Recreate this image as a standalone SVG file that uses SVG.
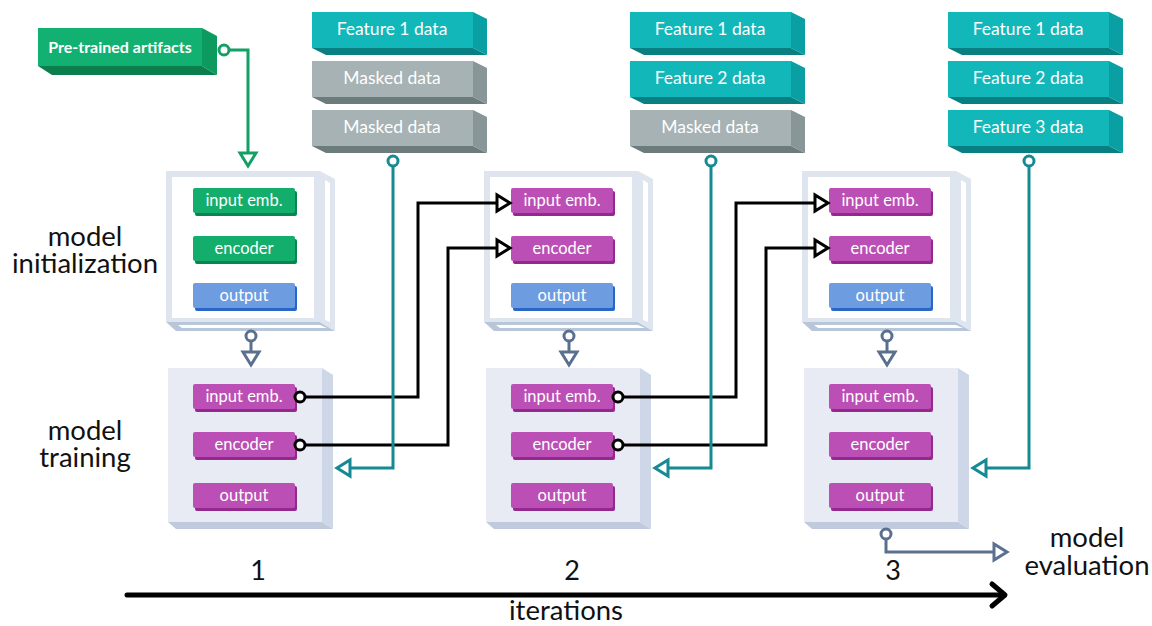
<svg xmlns="http://www.w3.org/2000/svg" width="1152" height="626" viewBox="0 0 1152 626">
<style>
text{font-family:Lato,"Noto Sans","Liberation Sans",sans-serif}
.lbl{font-size:27.5px;fill:#111;text-anchor:middle}
.num{font-size:27px;fill:#111;text-anchor:middle}
.dt{font-size:17.5px;fill:#fff;text-anchor:middle}
.bt{font-size:16.5px;fill:#fff;text-anchor:middle}
.tf{fill:#12b7b9}.ts{fill:#0a9fa2}.tb{fill:#087f81}
.gf{fill:#a6b2b3}.gs{fill:#899698}.gb{fill:#6c7b7c}
.pf{fill:#12b172}.ps{fill:#0c9a5f}.pb{fill:#0a7f4d}
.mag{fill:#bb4fb5}.magd{fill:#93288f}
.grn{fill:#13ad6c}.grnd{fill:#0a8450}
.blu{fill:#6d9ce0}.blud{fill:#2a66c8}
.fr{fill:#dfe5ef}.frw{fill:#fff}.frb{fill:#b8c6da}
.tr{fill:#e8ebf4}.trs{fill:#cdd7e7}.trb{fill:#bfcadd}
.ln{fill:none;stroke-width:3;stroke-linejoin:miter}
.k{stroke:#000}.c{stroke:#168a93}.s{stroke:#5b708f}.g{stroke:#12a064}
.dot{fill:#fff;stroke-width:3}
.ah{fill:#fff;stroke-width:3;stroke-linejoin:miter}
</style>

<!-- left labels -->
<g id="label-init"><text class="lbl" x="85" y="246">model</text><text class="lbl" x="85" y="273">initialization</text></g>
<g id="label-train"><text class="lbl" x="85" y="440">model</text><text class="lbl" x="85" y="467">training</text></g>
<g id="label-eval"><text class="lbl" x="1087" y="547">model</text><text class="lbl" x="1087" y="575">evaluation</text></g>

<!-- pre-trained artifacts -->
<g id="pretrained">
<polygon class="pb" points="38,66 202,66 217,75 52,75"/>
<polygon class="ps" points="202,28 217,36 217,75 202,66"/>
<rect class="pf" x="38" y="28" width="164" height="38"/>
<text x="120" y="53" font-size="16" font-weight="bold" fill="#fff" text-anchor="middle">Pre-trained artifacts</text>
</g>

<!-- data stacks -->
<g id="data-col1">
<polygon class="tb" points="312,48 473,48 487,55 326,55"/><polygon class="ts" points="473,12 487,19 487,55 473,48"/><rect class="tf" x="312" y="12" width="161" height="36"/>
<text class="dt" x="392" y="35">Feature 1 data</text>
<polygon class="gb" points="312,97 473,97 487,104 326,104"/><polygon class="gs" points="473,61 487,68 487,104 473,97"/><rect class="gf" x="312" y="61" width="161" height="36"/>
<text class="dt" x="392" y="84">Masked data</text>
<polygon class="gb" points="312,146 473,146 487,153 326,153"/><polygon class="gs" points="473,110 487,117 487,153 473,146"/><rect class="gf" x="312" y="110" width="161" height="36"/>
<text class="dt" x="392" y="133">Masked data</text>
</g>
<g id="data-col2" transform="translate(318,0)">
<polygon class="tb" points="312,48 473,48 487,55 326,55"/><polygon class="ts" points="473,12 487,19 487,55 473,48"/><rect class="tf" x="312" y="12" width="161" height="36"/>
<text class="dt" x="392" y="35">Feature 1 data</text>
<polygon class="tb" points="312,97 473,97 487,104 326,104"/><polygon class="ts" points="473,61 487,68 487,104 473,97"/><rect class="tf" x="312" y="61" width="161" height="36"/>
<text class="dt" x="392" y="84">Feature 2 data</text>
<polygon class="gb" points="312,146 473,146 487,153 326,153"/><polygon class="gs" points="473,110 487,117 487,153 473,146"/><rect class="gf" x="312" y="110" width="161" height="36"/>
<text class="dt" x="392" y="133">Masked data</text>
</g>
<g id="data-col3" transform="translate(636,0)">
<polygon class="tb" points="312,48 473,48 487,55 326,55"/><polygon class="ts" points="473,12 487,19 487,55 473,48"/><rect class="tf" x="312" y="12" width="161" height="36"/>
<text class="dt" x="392" y="35">Feature 1 data</text>
<polygon class="tb" points="312,97 473,97 487,104 326,104"/><polygon class="ts" points="473,61 487,68 487,104 473,97"/><rect class="tf" x="312" y="61" width="161" height="36"/>
<text class="dt" x="392" y="84">Feature 2 data</text>
<polygon class="tb" points="312,146 473,146 487,153 326,153"/><polygon class="ts" points="473,110 487,117 487,153 473,146"/><rect class="tf" x="312" y="110" width="161" height="36"/>
<text class="dt" x="392" y="133">Feature 3 data</text>
</g>

<!-- init boxes -->
<g id="init-1">
<polygon class="frb" points="166,322 320,322 335,331 176,331"/>
<polygon class="frw" points="178,325 320,325 327,328 182,328"/>
<polygon class="fr" points="320,171 335,179 335,331 320,322"/>
<polygon class="frw" points="325,180 330,183 330,322 325,320"/>
<rect class="fr" x="166" y="171" width="154" height="151"/>
<rect class="frw" x="172" y="177" width="142" height="141"/>
<rect class="grnd" x="195" y="191" width="102" height="25" rx="2"/><rect class="grn" x="193" y="188" width="102" height="25" rx="2"/><text class="bt" x="244" y="206">input emb.</text>
<rect class="grnd" x="195" y="239" width="102" height="25" rx="2"/><rect class="grn" x="193" y="236" width="102" height="25" rx="2"/><text class="bt" x="244" y="254">encoder</text>
<rect class="blud" x="195" y="286" width="102" height="25" rx="2"/><rect class="blu" x="193" y="283" width="102" height="25" rx="2"/><text class="bt" x="244" y="301">output</text>
</g>
<g id="init-2" transform="translate(318,0)">
<polygon class="frb" points="166,322 320,322 335,331 176,331"/>
<polygon class="frw" points="178,325 320,325 327,328 182,328"/>
<polygon class="fr" points="320,171 335,179 335,331 320,322"/>
<polygon class="frw" points="325,180 330,183 330,322 325,320"/>
<rect class="fr" x="166" y="171" width="154" height="151"/>
<rect class="frw" x="172" y="177" width="142" height="141"/>
<rect class="magd" x="195" y="191" width="102" height="25" rx="2"/><rect class="mag" x="193" y="188" width="102" height="25" rx="2"/><text class="bt" x="244" y="206">input emb.</text>
<rect class="magd" x="195" y="239" width="102" height="25" rx="2"/><rect class="mag" x="193" y="236" width="102" height="25" rx="2"/><text class="bt" x="244" y="254">encoder</text>
<rect class="blud" x="195" y="286" width="102" height="25" rx="2"/><rect class="blu" x="193" y="283" width="102" height="25" rx="2"/><text class="bt" x="244" y="301">output</text>
</g>
<g id="init-3" transform="translate(636,0)">
<polygon class="frb" points="166,322 320,322 335,331 176,331"/>
<polygon class="frw" points="178,325 320,325 327,328 182,328"/>
<polygon class="fr" points="320,171 335,179 335,331 320,322"/>
<polygon class="frw" points="325,180 330,183 330,322 325,320"/>
<rect class="fr" x="166" y="171" width="154" height="151"/>
<rect class="frw" x="172" y="177" width="142" height="141"/>
<rect class="magd" x="195" y="191" width="102" height="25" rx="2"/><rect class="mag" x="193" y="188" width="102" height="25" rx="2"/><text class="bt" x="244" y="206">input emb.</text>
<rect class="magd" x="195" y="239" width="102" height="25" rx="2"/><rect class="mag" x="193" y="236" width="102" height="25" rx="2"/><text class="bt" x="244" y="254">encoder</text>
<rect class="blud" x="195" y="286" width="102" height="25" rx="2"/><rect class="blu" x="193" y="283" width="102" height="25" rx="2"/><text class="bt" x="244" y="301">output</text>
</g>

<!-- training boxes -->
<g id="train-1">
<polygon class="trb" points="168,522 322,522 333,529 176,529"/>
<polygon class="trs" points="322,368 333,375 333,529 322,522"/>
<rect class="tr" x="168" y="368" width="154" height="154"/>
<rect class="magd" x="195" y="387" width="102" height="25" rx="2"/><rect class="mag" x="193" y="384" width="102" height="25" rx="2"/><text class="bt" x="244" y="402">input emb.</text>
<rect class="magd" x="195" y="435" width="102" height="25" rx="2"/><rect class="mag" x="193" y="432" width="102" height="25" rx="2"/><text class="bt" x="244" y="450">encoder</text>
<rect class="magd" x="195" y="486" width="102" height="25" rx="2"/><rect class="mag" x="193" y="483" width="102" height="25" rx="2"/><text class="bt" x="244" y="501">output</text>
</g>
<g id="train-2" transform="translate(318,0)">
<polygon class="trb" points="168,522 322,522 333,529 176,529"/>
<polygon class="trs" points="322,368 333,375 333,529 322,522"/>
<rect class="tr" x="168" y="368" width="154" height="154"/>
<rect class="magd" x="195" y="387" width="102" height="25" rx="2"/><rect class="mag" x="193" y="384" width="102" height="25" rx="2"/><text class="bt" x="244" y="402">input emb.</text>
<rect class="magd" x="195" y="435" width="102" height="25" rx="2"/><rect class="mag" x="193" y="432" width="102" height="25" rx="2"/><text class="bt" x="244" y="450">encoder</text>
<rect class="magd" x="195" y="486" width="102" height="25" rx="2"/><rect class="mag" x="193" y="483" width="102" height="25" rx="2"/><text class="bt" x="244" y="501">output</text>
</g>
<g id="train-3" transform="translate(636,0)">
<polygon class="trb" points="168,522 322,522 333,529 176,529"/>
<polygon class="trs" points="322,368 333,375 333,529 322,522"/>
<rect class="tr" x="168" y="368" width="154" height="154"/>
<rect class="magd" x="195" y="387" width="102" height="25" rx="2"/><rect class="mag" x="193" y="384" width="102" height="25" rx="2"/><text class="bt" x="244" y="402">input emb.</text>
<rect class="magd" x="195" y="435" width="102" height="25" rx="2"/><rect class="mag" x="193" y="432" width="102" height="25" rx="2"/><text class="bt" x="244" y="450">encoder</text>
<rect class="magd" x="195" y="486" width="102" height="25" rx="2"/><rect class="mag" x="193" y="483" width="102" height="25" rx="2"/><text class="bt" x="244" y="501">output</text>
</g>

<!-- iteration axis -->
<g id="axis">
<text class="num" x="258" y="580">1</text>
<text class="num" x="572" y="580">2</text>
<text class="num" x="893" y="580">3</text>
<line x1="127" y1="595" x2="1004" y2="595" stroke="#000" stroke-width="5" stroke-linecap="round"/>
<polyline points="992,584 1005,595 992,606" fill="none" stroke="#000" stroke-width="5" stroke-linecap="round" stroke-linejoin="round"/>
<text class="lbl" x="566" y="620">iterations</text>
</g>

<!-- connectors -->
<g id="connectors">
<polyline class="ln g" points="229,50 248,50 248,153"/>
<circle class="dot g" cx="224" cy="50" r="5"/>
<polygon class="ah g" points="240,153 256,153 248,166"/>
<line class="ln s" x1="251" y1="340" x2="251" y2="352"/><circle class="dot s" cx="251" cy="336" r="5"/><polygon class="ah s" points="243,352 259,352 251,365"/>
<line class="ln s" x1="569" y1="340" x2="569" y2="352"/><circle class="dot s" cx="569" cy="336" r="5"/><polygon class="ah s" points="561,352 577,352 569,365"/>
<line class="ln s" x1="887" y1="340" x2="887" y2="352"/><circle class="dot s" cx="887" cy="336" r="5"/><polygon class="ah s" points="879,352 895,352 887,365"/>
<polyline class="ln k" points="305,397 418,397 418,203 497,203"/>
<circle class="dot k" cx="300" cy="397" r="5"/><polygon class="ah k" points="497,195 497,211 510,203"/>
<polyline class="ln k" points="305,445 448,445 448,248 497,248"/>
<circle class="dot k" cx="300" cy="445" r="5"/><polygon class="ah k" points="497,240 497,256 510,248"/>
<polyline class="ln k" points="623,397 736,397 736,203 815,203"/>
<circle class="dot k" cx="618" cy="397" r="5"/><polygon class="ah k" points="815,195 815,211 828,203"/>
<polyline class="ln k" points="623,445 766,445 766,248 815,248"/>
<circle class="dot k" cx="618" cy="445" r="5"/><polygon class="ah k" points="815,240 815,256 828,248"/>
<polyline class="ln c" points="393,166 393,468 350,468"/>
<circle class="dot c" cx="393" cy="161" r="5"/><polygon class="ah c" points="350,460 350,476 337,468"/>
<polyline class="ln c" points="711,166 711,468 668,468"/>
<circle class="dot c" cx="711" cy="161" r="5"/><polygon class="ah c" points="668,460 668,476 655,468"/>
<polyline class="ln c" points="1029,166 1029,468 986,468"/>
<circle class="dot c" cx="1029" cy="161" r="5"/><polygon class="ah c" points="986,460 986,476 973,468"/>
<polyline class="ln s" points="886,539 886,552 994,552"/>
<circle class="dot s" cx="886" cy="534" r="5"/><polygon class="ah s" points="994,544 994,560 1007,552"/>
</g>
</svg>
